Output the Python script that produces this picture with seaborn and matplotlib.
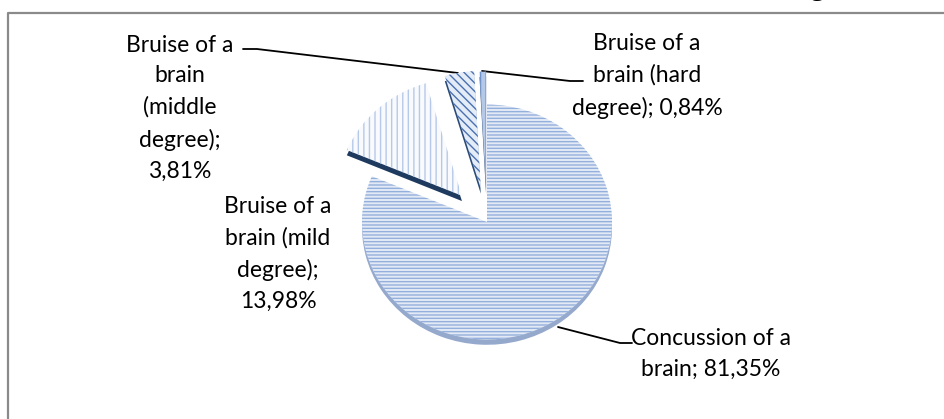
import matplotlib
matplotlib.use('Agg')
import matplotlib.pyplot as plt
import seaborn as sns

# data
categories = ['Concussion of a brain', 'Bruise of a brain (mild degree)',
              'Bruise of a brain (middle degree)', 'Bruise of a brain (hard degree)']
shares = [81.35, 13.98, 3.81, 0.84]
label_texts = ['Concussion of a\nbrain; 81,35%',
               'Bruise of a\nbrain (mild\ndegree);\n13,98%',
               'Bruise of a\nbrain\n(middle\ndegree);\n3,81%',
               'Bruise of a\nbrain (hard\ndegree); 0,84%']
explode = [0, 0.30, 0.29, 0.28]

sns.set_theme(style='white')
plt.rcParams['font.family'] = ['Lato', 'DejaVu Sans']
plt.rcParams['hatch.linewidth'] = 1.0

W, H = 945, 419
fig = plt.figure(figsize=(W / 100, H / 100), dpi=100)
fig.patch.set_facecolor('white')

# background axes in pixel coords for frame, labels and leader lines
ax_bg = fig.add_axes([0, 0, 1, 1])
ax_bg.set_xlim(0, W)
ax_bg.set_ylim(H, 0)
ax_bg.axis('off')
ax_bg.plot([8, 8, W + 2], [H + 2, 13, 13], color='#8a8a8a', lw=1.6)
# tail of the caption above the chart, cut off by the page edge
ax_bg.text(817, -6, 'g', family='Liberation Serif', fontsize=22,
           ha='center', va='baseline', color='black')

# pie axes, slightly squashed like the 3D pie
cx, cy, rx, ry = 487, 222, 125, 117.5
ax_pie = fig.add_axes([(cx - 1.5 * rx) / W, (H - cy - 1.5 * ry) / H,
                       3 * rx / W, 3 * ry / H])
ax_pie.patch.set_visible(False)

# side faces (shifted copy drawn underneath)
side_colors = ['#95a9cd', '#1e3a5f', '#2a4a78', '#2a4a78']
ax_pie.pie(shares, explode=explode, startangle=90, counterclock=False,
           center=(0, -0.045), colors=side_colors,
           wedgeprops=dict(linewidth=0))

face_colors = ['#e3eaf6', '#f8fafd', '#e4ecf8', '#b4c8e8']
hatch_colors = ['#93afdc', '#b7c9e8', '#4a70b0', '#6f92cc']
hatches = ['-----', '|||', '\\\\\\\\', '|||']
wedges, _ = ax_pie.pie(shares, explode=explode, startangle=90, counterclock=False,
                       colors=face_colors, wedgeprops=dict(linewidth=0))
for w, hc, ht in zip(wedges, hatch_colors, hatches):
    w.set_edgecolor(hc)
    w.set_hatch(ht)
    w.set_linewidth(0)
    w.set_zorder(3)

ax_pie.set_aspect('auto')
ax_pie.set_xlim(-1.5, 1.5)
ax_pie.set_ylim(-1.5, 1.5)
ax_pie.axis('off')

# data labels
fs = 16.5
lsp = 1.58
label_pos = [(711, 354), (278, 254), (180, 108), (647, 76)]
for txt, (x, y) in zip(label_texts, label_pos):
    ax_bg.text(x, y, txt, ha='center', va='center', multialignment='center',
               fontsize=fs, linespacing=lsp, color='black', zorder=5)

# leader lines
leaders = [([558, 620, 632], [327, 343, 343]),
           ([243, 257, 458], [49, 49, 73]),
           ([482, 570, 583], [71, 81, 81])]
for xs, ys in leaders:
    ax_bg.plot(xs, ys, color='black', lw=1.3, zorder=5)

fig.savefig('out.png', dpi=100, facecolor='white')
